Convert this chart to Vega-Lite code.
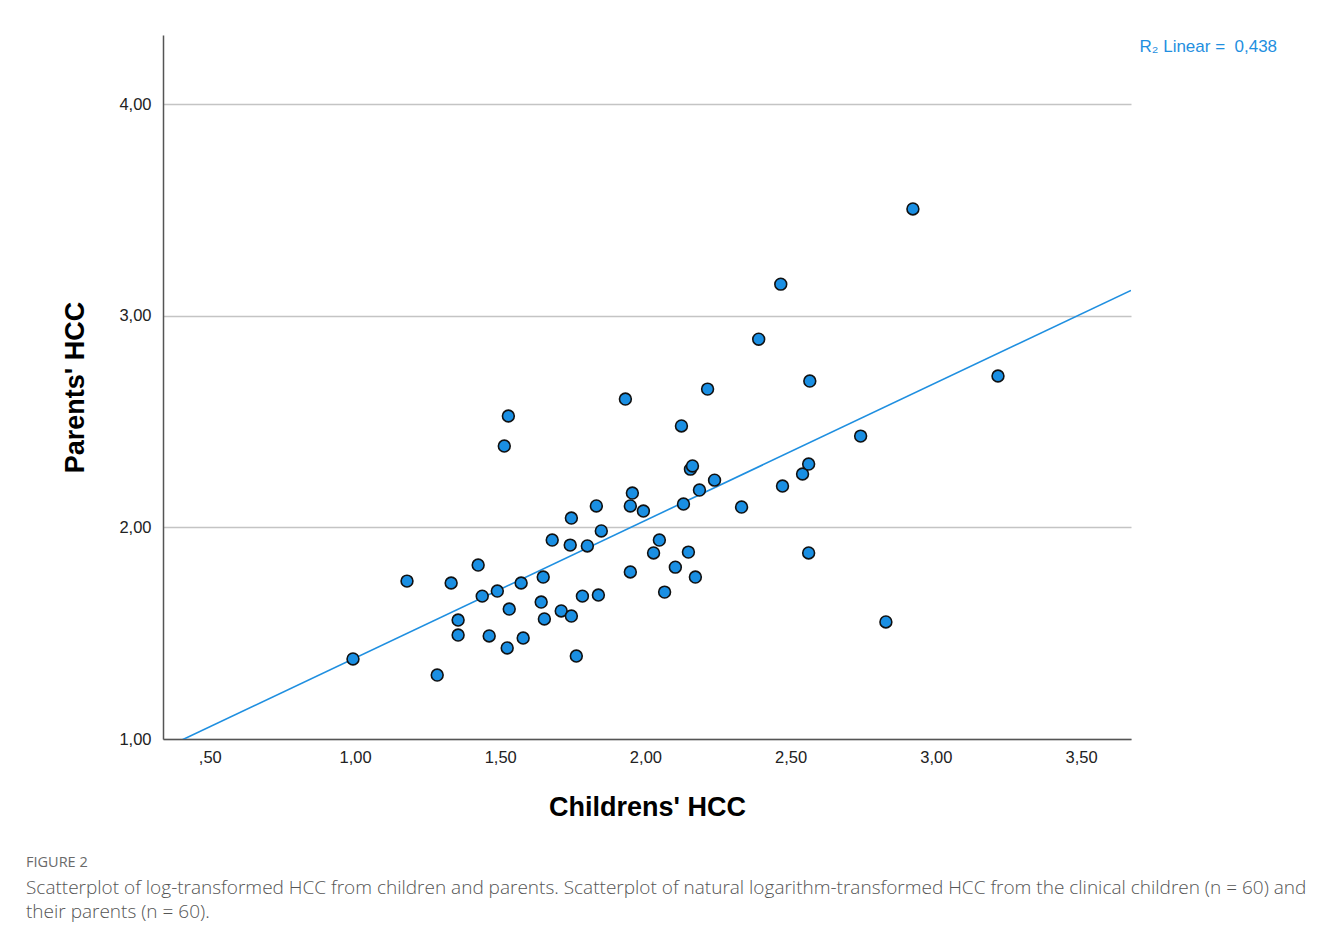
{
  "$schema": "https://vega.github.io/schema/vega-lite/v6.json",
  "autosize": "none",
  "padding": {"left": 163, "top": 35, "right": 200, "bottom": 190},
  "width": 968,
  "height": 704,
  "background": "white",
  "config": {
    "view": {"stroke": null},
    "font": "Liberation Sans"
  },
  "title": {
    "text": "FIGURE 2",
    "subtitle": ["Scatterplot of log-transformed HCC from children and parents. Scatterplot of natural logarithm-transformed HCC from the clinical children (n = 60) and", "their parents (n = 60)."],
    "orient": "bottom",
    "anchor": "start",
    "frame": "group",
    "dx": -137,
    "offset": 35,
    "font": "Open Sans",
    "fontSize": 14.5,
    "fontWeight": "normal",
    "color": "#6a6a6a",
    "subtitleFont": "Open Sans",
    "subtitleFontSize": 19,
    "subtitleFontWeight": 300,
    "subtitleColor": "#555555",
    "subtitleLineHeight": 24,
    "subtitlePadding": 9
  },
  "data": {
    "values": [
      {"child": 0.993, "parent": 1.378},
      {"child": 1.179, "parent": 1.746},
      {"child": 1.283, "parent": 1.302},
      {"child": 1.331, "parent": 1.737},
      {"child": 1.355, "parent": 1.562},
      {"child": 1.355, "parent": 1.491},
      {"child": 1.424, "parent": 1.822},
      {"child": 1.438, "parent": 1.675},
      {"child": 1.462, "parent": 1.487},
      {"child": 1.490, "parent": 1.699},
      {"child": 1.514, "parent": 2.384},
      {"child": 1.528, "parent": 2.526},
      {"child": 1.524, "parent": 1.430},
      {"child": 1.531, "parent": 1.614},
      {"child": 1.572, "parent": 1.737},
      {"child": 1.579, "parent": 1.477},
      {"child": 1.641, "parent": 1.647},
      {"child": 1.648, "parent": 1.765},
      {"child": 1.652, "parent": 1.567},
      {"child": 1.679, "parent": 1.940},
      {"child": 1.710, "parent": 1.605},
      {"child": 1.741, "parent": 1.916},
      {"child": 1.745, "parent": 2.044},
      {"child": 1.745, "parent": 1.581},
      {"child": 1.762, "parent": 1.392},
      {"child": 1.783, "parent": 1.675},
      {"child": 1.800, "parent": 1.912},
      {"child": 1.831, "parent": 2.101},
      {"child": 1.838, "parent": 1.680},
      {"child": 1.848, "parent": 1.983},
      {"child": 1.931, "parent": 2.606},
      {"child": 1.948, "parent": 1.789},
      {"child": 1.948, "parent": 2.101},
      {"child": 1.955, "parent": 2.162},
      {"child": 1.993, "parent": 2.077},
      {"child": 2.028, "parent": 1.879},
      {"child": 2.048, "parent": 1.940},
      {"child": 2.066, "parent": 1.694},
      {"child": 2.103, "parent": 1.812},
      {"child": 2.124, "parent": 2.479},
      {"child": 2.131, "parent": 2.110},
      {"child": 2.148, "parent": 1.883},
      {"child": 2.155, "parent": 2.275},
      {"child": 2.162, "parent": 2.290},
      {"child": 2.172, "parent": 1.765},
      {"child": 2.186, "parent": 2.176},
      {"child": 2.214, "parent": 2.653},
      {"child": 2.238, "parent": 2.223},
      {"child": 2.331, "parent": 2.096},
      {"child": 2.466, "parent": 3.149},
      {"child": 2.390, "parent": 2.889},
      {"child": 2.472, "parent": 2.195},
      {"child": 2.541, "parent": 2.252},
      {"child": 2.562, "parent": 2.299},
      {"child": 2.562, "parent": 1.879},
      {"child": 2.566, "parent": 2.691},
      {"child": 2.741, "parent": 2.431},
      {"child": 2.828, "parent": 1.553},
      {"child": 2.921, "parent": 3.504},
      {"child": 3.214, "parent": 2.715}
    ]
  },
  "encoding": {
    "x": {
      "field": "child",
      "type": "quantitative",
      "scale": {"domain": [0.3388, 3.672], "nice": false, "zero": false},
      "axis": {
        "title": "Childrens' HCC",
        "titleFont": "Liberation Sans",
        "titleFontSize": 27,
        "titleFontWeight": "bold",
        "titleColor": "#000000",
        "titlePadding": 29,
        "values": [0.5, 1, 1.5, 2, 2.5, 3, 3.5],
        "labelExpr": "datum.value < 1 ? ',' + substring(format(datum.value, '.2f'), 2) : replace(format(datum.value, '.2f'), '.', ',')",
        "labelFont": "Liberation Sans",
        "labelFontSize": 16.5,
        "labelColor": "#222222",
        "labelPadding": 10,
        "ticks": false,
        "grid": false,
        "domainColor": "#555555",
        "domainWidth": 1.5
      }
    },
    "y": {
      "field": "parent",
      "type": "quantitative",
      "scale": {"domain": [1, 4.326], "nice": false, "zero": false},
      "axis": {
        "title": "Parents' HCC",
        "titleFont": "Liberation Sans",
        "titleFontSize": 27,
        "titleFontWeight": "bold",
        "titleColor": "#000000",
        "titlePadding": 29,
        "values": [1, 2, 3, 4],
        "labelExpr": "replace(format(datum.value, '.2f'), '.', ',')",
        "labelFont": "Liberation Sans",
        "labelFontSize": 16.5,
        "labelColor": "#222222",
        "labelPadding": 12,
        "ticks": false,
        "grid": true,
        "gridColor": "#c4c4c4",
        "gridWidth": 1.6,
        "domainColor": "#555555",
        "domainWidth": 1.5
      }
    }
  },
  "layer": [
    {
      "transform": [
        {"regression": "parent", "on": "child", "extent": [0.3388, 3.672]}
      ],
      "mark": {"type": "line", "color": "#1f8fe0", "strokeWidth": 1.6, "clip": true}
    },
    {
      "mark": {
        "type": "point",
        "shape": "circle",
        "filled": true,
        "size": 140,
        "fill": "#1a8fe3",
        "stroke": "#111111",
        "strokeWidth": 1.6,
        "opacity": 1
      }
    },
    {
      "transform": [{"filter": "datum.child > 3.2"}],
      "mark": {
        "type": "text",
        "text": "R₂ Linear = \u00a00,438",
        "align": "right",
        "baseline": "middle",
        "font": "Liberation Sans",
        "fontSize": 17,
        "color": "#1f8fe0",
        "clip": false
      },
      "encoding": {
        "x": {"datum": 4.175},
        "y": {"datum": 4.269}
      }
    }
  ]
}
